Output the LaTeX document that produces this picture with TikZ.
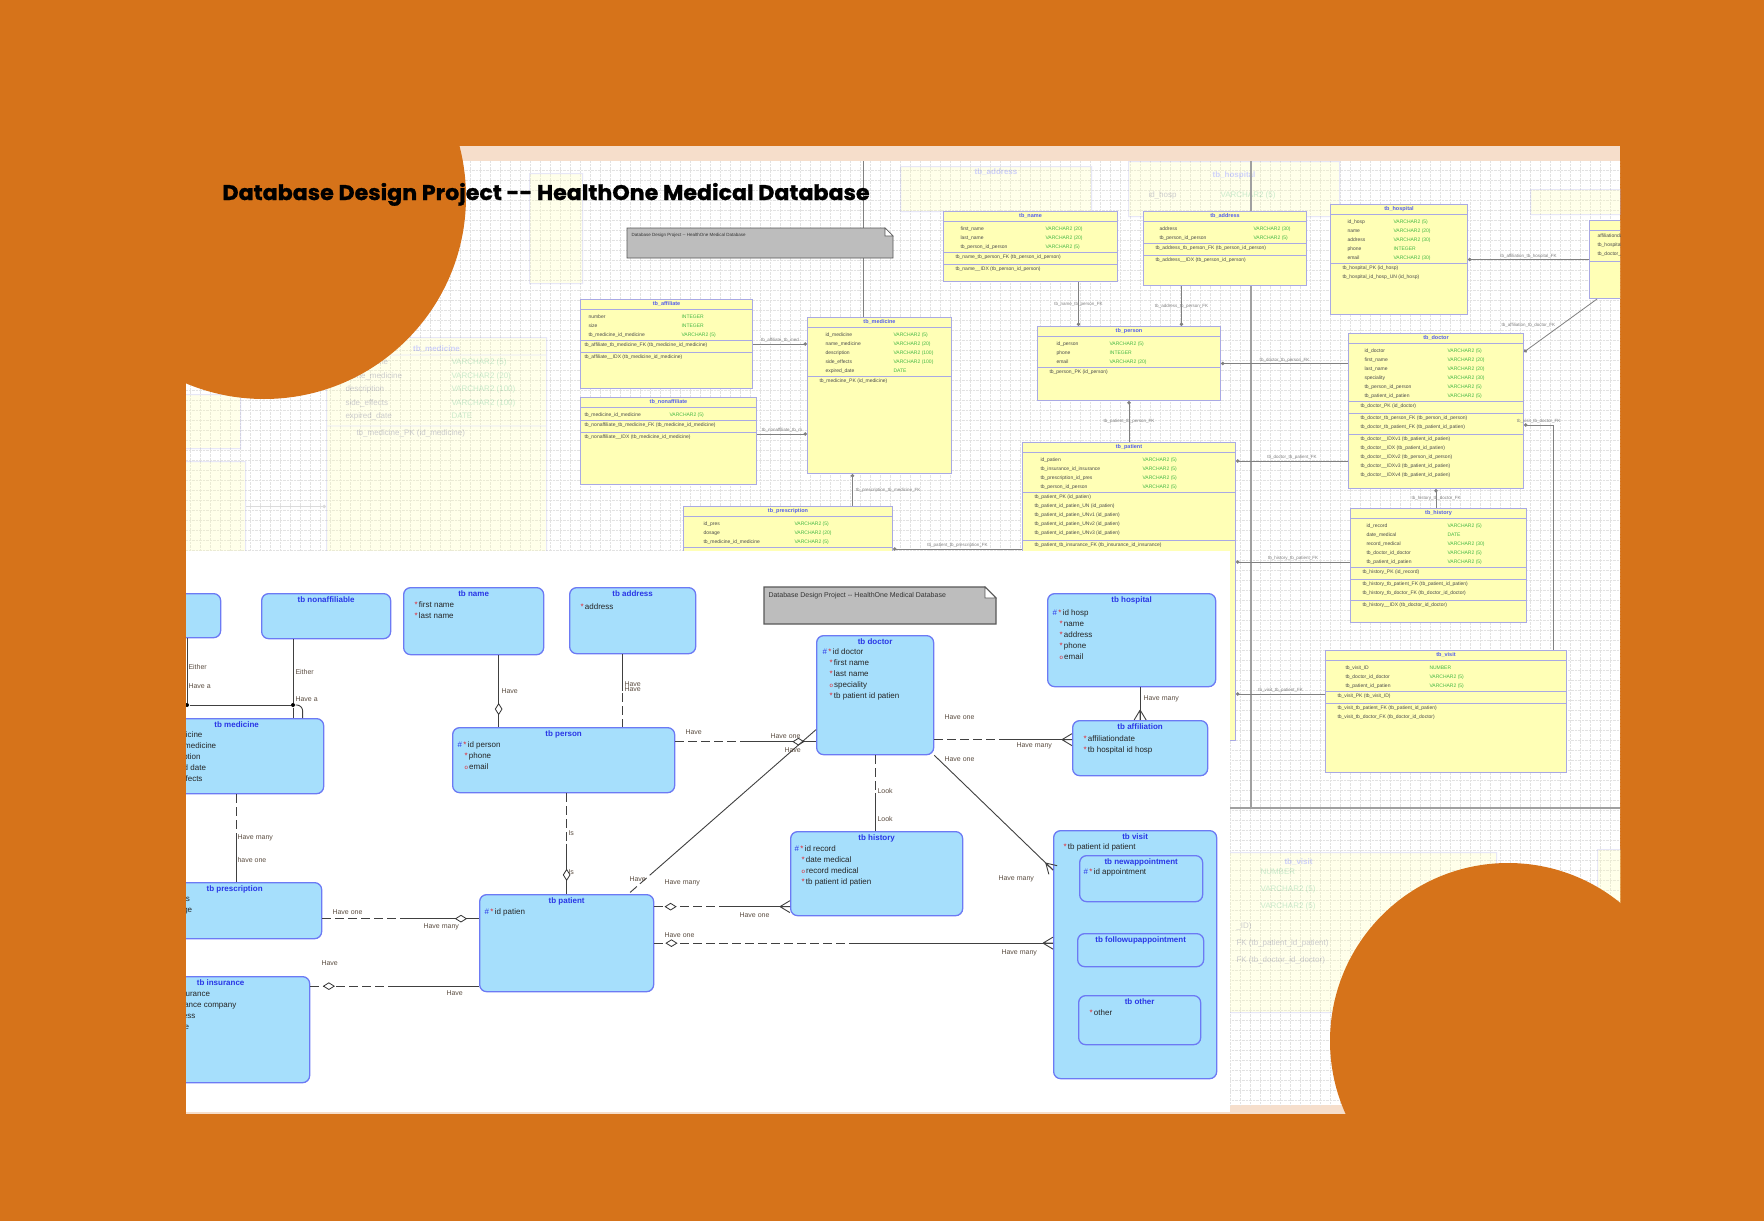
\documentclass[tikz,border=0pt]{standalone}
\usepackage{fontspec}
\usepackage{array}
\usepackage{graphicx}
\setmainfont{Liberation Sans}
\newfontfamily\titlefont{Poppins}[FakeBold=1.2]
\usetikzlibrary{arrows.meta, positioning, shapes.geometric, calc}
\definecolor{corange}{HTML}{D6731A}
\definecolor{cpeach}{HTML}{F6DECB}
\definecolor{cgrid}{HTML}{E2E2E2}
\definecolor{cent}{HTML}{A6DFFC}
\definecolor{centline}{HTML}{6C7AF4}
\definecolor{centtitle}{HTML}{2936E6}
\definecolor{cyel}{HTML}{FFFFB6}
\definecolor{cyelline}{HTML}{A9A9E4}
\definecolor{ctype}{HTML}{45B845}
\definecolor{cnote}{HTML}{BDBDBD}
\definecolor{clabel}{HTML}{5C4E42}
\definecolor{cstar}{HTML}{E5262E}
\definecolor{csplit}{HTML}{A0A0A0}
\newcommand{\pkey}{\textcolor{centtitle}{\#}\,}
\newcommand{\reqd}{\textcolor{cstar}{*}\,}
\newcommand{\optl}{\textcolor{cstar}{\fontsize{6}{6}\selectfont o}\,}
\newcommand{\fldind}{\hspace*{7pt}}
\tikzset{
  every picture/.style={font=\fontsize{8}{11}\selectfont, line width=1pt},
  ent/.style={draw=centline, fill=cent, rounded corners=7pt, line width=1.3pt, anchor=north west, inner sep=0pt},
  enttitle/.style={font=\fontsize{8}{9}\selectfont\bfseries, text=centtitle, anchor=north, inner sep=0pt, yshift=-3pt},
  fields/.style={anchor=north west, align=left, inner sep=0pt, font=\fontsize{8}{11}\selectfont, text=black!85},
  rel/.style={draw=black!75, line width=0.9pt},
  optrel/.style={rel, dash pattern=on 9pt off 4pt},
  dmd/.style={diamond, draw=black!80, fill=white, solid, line width=0.8pt, minimum width=11pt, minimum height=7pt, inner sep=0pt},
  lbl/.style={font=\fontsize{7}{8}\selectfont, text=clabel, anchor=west, inner sep=0pt},
  junction/.style={circle, fill=black, inner sep=0pt, minimum size=4pt},
  pics/crowfoot/.style={code={\draw[rel] (-10,0) -- (0,-6) (-10,0) -- (0,6) (-10,0) -- (0,0);}},
  notebox/.style={draw=black!65, fill=cnote, line width=1.2pt},
  notetext/.style={font=\fontsize{7}{8}\selectfont, text=black!80, anchor=west, inner sep=0pt},
  tbl/.style={draw=cyelline, fill=cyel, line width=1pt, anchor=north west, inner sep=0pt},
  tbltitle/.style={font=\fontsize{5.5}{6}\selectfont\bfseries, text=centtitle!80, anchor=north, inner sep=0pt, yshift=-2pt},
  tblrows/.style={anchor=north west, align=left, inner sep=0pt, font=\fontsize{5}{9}\selectfont, text=black!70},
  tbldiv/.style={draw=cyelline, line width=0.8pt},
  fklink/.style={draw=black!50, line width=0.8pt, -{Circle[length=3.5pt]}},
  fklbl/.style={font=\fontsize{4.5}{5}\selectfont, text=black!50, inner sep=1pt},
  gridline/.style={draw=cgrid, line width=0.4pt, densely dotted},
  splitline/.style={draw=csplit, line width=1.6pt},
}
\begin{document}
\begin{tikzpicture}[x=1pt, y=-1pt]
  \useasboundingbox (0,0) rectangle (1764,1221);
  % slide and screenshot of the relational model
  \fill[corange] (0,0) rectangle (1764,1221);
  \fill[cpeach] (186,146) rectangle (1620,1114);
  \fill[white] (186,161) rectangle (1620,1105);
  \begin{scope}
    \clip (186,161) rectangle (1620,1105);
    \draw[gridline, step=10pt] (186,1105) grid (1620,161);
    % faded copy behind
    \begin{scope}[opacity=0.28, transparency group]
      \node[tbl, minimum width=53pt, minimum height=110pt] (fname) at (529,173) {};
      \node[tbl, minimum width=191pt, minimum height=45pt] (faddr) at (900,166) {};
      \node[tbltitle, font=\fontsize{8}{9}\selectfont\bfseries] (faddrT) at (faddr.north) {tb\_address};
      \node[tbl, minimum width=211pt, minimum height=55pt] (fhosp) at (1128,161) {};
      \node[tbltitle, font=\fontsize{8}{9}\selectfont\bfseries, yshift=-8pt] (fhospT) at (fhosp.north) {tb\_hospital};
      \node[tblrows, font=\fontsize{8}{14}\selectfont] (fhospR) at ($(fhosp.north west)+(20,26)$) {\begin{tabular}{@{}p{60pt}>{\color{ctype}}l@{}}id\_hosp & VARCHAR2 (5)\end{tabular}};
      \node[tbl, minimum width=90pt, minimum height=25pt] (fright) at (1530,189) {};
      \node[tbl, minimum width=220pt, minimum height=214pt] (fmed) at (326,337) {};
      \node[tbltitle, font=\fontsize{8}{9}\selectfont\bfseries, yshift=-6pt] (fmedT) at (fmed.north) {tb\_medicine};
      \node[tblrows, font=\fontsize{8}{13.5}\selectfont] (fmedR) at ($(fmed.north west)+(19,18)$) {\begin{tabular}{@{}p{94pt}>{\color{ctype}}l@{}}id\_medicine & VARCHAR2 (5)\\ name\_medicine & VARCHAR2 (20)\\ description & VARCHAR2 (100)\\ side\_effects & VARCHAR2 (100)\\ expired\_date & DATE\end{tabular}};
      \node[tblrows, font=\fontsize{8}{13.5}\selectfont] (fmedK) at ($(fmed.north west)+(30,92)$) {tb\_medicine\_PK (id\_medicine)};
      \draw[tbldiv] ([yshift=-18pt]fmed.north west) -- ([yshift=-18pt]fmed.north east) ([yshift=-89pt]fmed.north west) -- ([yshift=-89pt]fmed.north east);
      \node[tbl, minimum width=90pt, minimum height=54pt] (fboxA) at (150,394) {};
      \node[tbl, minimum width=95pt, minimum height=90pt] (fboxB) at (150,461) {};
      \draw[fklink] (fboxB.east) -- (fboxB.east -| fmed.west);
      \node[tbl, minimum width=396pt, minimum height=160pt] (fvisit) at (1100,852) {};
      \node[tbltitle, font=\fontsize{8}{9}\selectfont\bfseries, yshift=-4pt] (fvisitT) at (fvisit.north) {tb\_visit};
      \node[tblrows, font=\fontsize{8}{17}\selectfont, text=ctype] (fvisitR) at (1260,868) {NUMBER\\ VARCHAR2 (5)\\ VARCHAR2 (5)};
      \node[tblrows, font=\fontsize{8}{17}\selectfont] (fvisitK) at (1236,922) {\_ID)\\ FK (tb\_patient\_id\_patient)\\ FK (tb\_doctor\_id\_doctor)};
      \node[tbl, minimum width=40pt, minimum height=107pt] (fright2) at (1597,849) {};
    \end{scope}
    \draw[splitline] (1251,161) -- (1251,808);
    \draw[splitline] (1230,808) -- (1620,808);
    % tables
    \node[tbl, minimum width=174pt, minimum height=70pt] (tname) at (943,211) {};
    \node[tbltitle] (tnameT) at (tname.north) {tb\_name};
    \node[tblrows] (tnameR) at ($(tname.north west)+(17,13)$) {\begin{tabular}{@{}p{73pt}>{\color{ctype}}l@{}}first\_name & VARCHAR2 (20)\\ last\_name & VARCHAR2 (20)\\ tb\_person\_id\_person & VARCHAR2 (5)\end{tabular}};
    \node[tblrows] (tnameK) at ($(tname.north west)+(12,43)$) {tb\_name\_tb\_person\_FK (tb\_person\_id\_person)\\[3pt] tb\_name\_\_IDX (tb\_person\_id\_person)};
    \draw[tbldiv] ([yshift=-10pt]tname.north west) -- ([yshift=-10pt]tname.north east) ([yshift=-41pt]tname.north west) -- ([yshift=-41pt]tname.north east) ([yshift=-53pt]tname.north west) -- ([yshift=-53pt]tname.north east);
    \node[tbl, minimum width=163pt, minimum height=74pt] (taddr) at (1143,211) {};
    \node[tbltitle] (taddrT) at (taddr.north) {tb\_address};
    \node[tblrows] (taddrR) at ($(taddr.north west)+(16,13)$) {\begin{tabular}{@{}p{82pt}>{\color{ctype}}l@{}}address & VARCHAR2 (30)\\ tb\_person\_id\_person & VARCHAR2 (5)\end{tabular}};
    \node[tblrows] (taddrK) at ($(taddr.north west)+(12,34)$) {tb\_address\_tb\_person\_FK (tb\_person\_id\_person)\\[3pt] tb\_address\_\_IDX (tb\_person\_id\_person)};
    \draw[tbldiv] ([yshift=-10pt]taddr.north west) -- ([yshift=-10pt]taddr.north east) ([yshift=-32pt]taddr.north west) -- ([yshift=-32pt]taddr.north east) ([yshift=-44pt]taddr.north west) -- ([yshift=-44pt]taddr.north east);
    \node[tbl, minimum width=137pt, minimum height=110pt] (thosp) at (1330,204) {};
    \node[tbltitle] (thospT) at (thosp.north) {tb\_hospital};
    \node[tblrows] (thospR) at ($(thosp.north west)+(17,13)$) {\begin{tabular}{@{}p{34pt}>{\color{ctype}}l@{}}id\_hosp & VARCHAR2 (5)\\ name & VARCHAR2 (20)\\ address & VARCHAR2 (30)\\ phone & INTEGER\\ email & VARCHAR2 (30)\end{tabular}};
    \node[tblrows] (thospK) at ($(thosp.north west)+(12,61)$) {tb\_hospital\_PK (id\_hosp)\\ tb\_hospital\_id\_hosp\_UN (id\_hosp)};
    \draw[tbldiv] ([yshift=-10pt]thosp.north west) -- ([yshift=-10pt]thosp.north east) ([yshift=-59pt]thosp.north west) -- ([yshift=-59pt]thosp.north east);
    \node[tbl, minimum width=90pt, minimum height=78pt] (taffil) at (1589,220) {};
    \node[tblrows] (taffilR) at ($(taffil.north west)+(8,13)$) {affiliationdate\\ tb\_hospital\_id\_hosp\\ tb\_doctor\_id\_doctor};
    \draw[tbldiv] ([yshift=-10pt]taffil.north west) -- ([yshift=-10pt]taffil.north east) ([yshift=-41pt]taffil.north west) -- ([yshift=-41pt]taffil.north east);
    \node[tbl, minimum width=183pt, minimum height=74pt] (tperson) at (1037,326) {};
    \node[tbltitle] (tpersonT) at (tperson.north) {tb\_person};
    \node[tblrows] (tpersonR) at ($(tperson.north west)+(19,13)$) {\begin{tabular}{@{}p{41pt}>{\color{ctype}}l@{}}id\_person & VARCHAR2 (5)\\ phone & INTEGER\\ email & VARCHAR2 (20)\end{tabular}};
    \node[tblrows] (tpersonK) at ($(tperson.north west)+(12,43)$) {tb\_person\_PK (id\_person)};
    \draw[tbldiv] ([yshift=-10pt]tperson.north west) -- ([yshift=-10pt]tperson.north east) ([yshift=-41pt]tperson.north west) -- ([yshift=-41pt]tperson.north east);
    \node[tbl, minimum width=175pt, minimum height=155pt] (tdoctor) at (1348,333) {};
    \node[tbltitle] (tdoctorT) at (tdoctor.north) {tb\_doctor};
    \node[tblrows] (tdoctorR) at ($(tdoctor.north west)+(16,13)$) {\begin{tabular}{@{}p{71pt}>{\color{ctype}}l@{}}id\_doctor & VARCHAR2 (5)\\ first\_name & VARCHAR2 (20)\\ last\_name & VARCHAR2 (20)\\ speciality & VARCHAR2 (30)\\ tb\_person\_id\_person & VARCHAR2 (5)\\ tb\_patient\_id\_patien & VARCHAR2 (5)\end{tabular}};
    \node[tblrows] (tdoctorK) at ($(tdoctor.north west)+(12,70)$) {tb\_doctor\_PK (id\_doctor)\\[3pt] tb\_doctor\_tb\_person\_FK (tb\_person\_id\_person)\\ tb\_doctor\_tb\_patient\_FK (tb\_patient\_id\_patien)\\[3pt] tb\_doctor\_\_IDXv1 (tb\_patient\_id\_patien)\\ tb\_doctor\_\_IDX (tb\_patient\_id\_patien)\\ tb\_doctor\_\_IDXv2 (tb\_person\_id\_person)\\ tb\_doctor\_\_IDXv3 (tb\_patient\_id\_patien)\\ tb\_doctor\_\_IDXv4 (tb\_patient\_id\_patien)};
    \draw[tbldiv] ([yshift=-10pt]tdoctor.north west) -- ([yshift=-10pt]tdoctor.north east) ([yshift=-68pt]tdoctor.north west) -- ([yshift=-68pt]tdoctor.north east) ([yshift=-80pt]tdoctor.north west) -- ([yshift=-80pt]tdoctor.north east) ([yshift=-101pt]tdoctor.north west) -- ([yshift=-101pt]tdoctor.north east);
    \node[tbl, minimum width=213pt, minimum height=298pt] (tpatient) at (1022,442) {};
    \node[tbltitle] (tpatientT) at (tpatient.north) {tb\_patient};
    \node[tblrows] (tpatientR) at ($(tpatient.north west)+(18,13)$) {\begin{tabular}{@{}p{90pt}>{\color{ctype}}l@{}}id\_patien & VARCHAR2 (5)\\ tb\_insurance\_id\_insurance & VARCHAR2 (5)\\ tb\_prescription\_id\_pres & VARCHAR2 (5)\\ tb\_person\_id\_person & VARCHAR2 (5)\end{tabular}};
    \node[tblrows] (tpatientK) at ($(tpatient.north west)+(12,52)$) {tb\_patient\_PK (id\_patien)\\ tb\_patient\_id\_patien\_UN (id\_patien)\\ tb\_patient\_id\_patien\_UNv1 (id\_patien)\\ tb\_patient\_id\_patien\_UNv2 (id\_patien)\\ tb\_patient\_id\_patien\_UNv3 (id\_patien)\\[3pt] tb\_patient\_tb\_insurance\_FK (tb\_insurance\_id\_insurance)};
    \draw[tbldiv] ([yshift=-10pt]tpatient.north west) -- ([yshift=-10pt]tpatient.north east) ([yshift=-50pt]tpatient.north west) -- ([yshift=-50pt]tpatient.north east) ([yshift=-98pt]tpatient.north west) -- ([yshift=-98pt]tpatient.north east);
    \node[tbl, minimum width=176pt, minimum height=114pt] (thistory) at (1350,508) {};
    \node[tbltitle] (thistoryT) at (thistory.north) {tb\_history};
    \node[tblrows] (thistoryR) at ($(thistory.north west)+(16,13)$) {\begin{tabular}{@{}p{69pt}>{\color{ctype}}l@{}}id\_record & VARCHAR2 (5)\\ date\_medical & DATE\\ record\_medical & VARCHAR2 (30)\\ tb\_doctor\_id\_doctor & VARCHAR2 (5)\\ tb\_patient\_id\_patien & VARCHAR2 (5)\end{tabular}};
    \node[tblrows] (thistoryK) at ($(thistory.north west)+(12,61)$) {tb\_history\_PK (id\_record)\\[3pt] tb\_history\_tb\_patient\_FK (tb\_patient\_id\_patien)\\ tb\_history\_tb\_doctor\_FK (tb\_doctor\_id\_doctor)\\[3pt] tb\_history\_\_IDX (tb\_doctor\_id\_doctor)};
    \draw[tbldiv] ([yshift=-10pt]thistory.north west) -- ([yshift=-10pt]thistory.north east) ([yshift=-59pt]thistory.north west) -- ([yshift=-59pt]thistory.north east) ([yshift=-71pt]thistory.north west) -- ([yshift=-71pt]thistory.north east) ([yshift=-92pt]thistory.north west) -- ([yshift=-92pt]thistory.north east);
    \node[tbl, minimum width=241pt, minimum height=122pt] (tvisit) at (1325,650) {};
    \node[tbltitle] (tvisitT) at (tvisit.north) {tb\_visit};
    \node[tblrows] (tvisitR) at ($(tvisit.north west)+(20,13)$) {\begin{tabular}{@{}p{72pt}>{\color{ctype}}l@{}}tb\_visit\_ID & NUMBER\\ tb\_doctor\_id\_doctor & VARCHAR2 (5)\\ tb\_patient\_id\_patien & VARCHAR2 (5)\end{tabular}};
    \node[tblrows] (tvisitK) at ($(tvisit.north west)+(12,43)$) {tb\_visit\_PK (tb\_visit\_ID)\\[3pt] tb\_visit\_tb\_patient\_FK (tb\_patient\_id\_patien)\\ tb\_visit\_tb\_doctor\_FK (tb\_doctor\_id\_doctor)};
    \draw[tbldiv] ([yshift=-10pt]tvisit.north west) -- ([yshift=-10pt]tvisit.north east) ([yshift=-41pt]tvisit.north west) -- ([yshift=-41pt]tvisit.north east) ([yshift=-53pt]tvisit.north west) -- ([yshift=-53pt]tvisit.north east);
    \node[tbl, minimum width=172pt, minimum height=89pt] (taffiliate) at (580,299) {};
    \node[tbltitle] (taffiliateT) at (taffiliate.north) {tb\_affiliate};
    \node[tblrows] (taffiliateR) at ($(taffiliate.north west)+(8,13)$) {\begin{tabular}{@{}p{81pt}>{\color{ctype}}l@{}}number & INTEGER\\ size & INTEGER\\ tb\_medicine\_id\_medicine & VARCHAR2 (5)\end{tabular}};
    \node[tblrows] (taffiliateK) at ($(taffiliate.north west)+(4,43)$) {tb\_affiliate\_tb\_medicine\_FK (tb\_medicine\_id\_medicine)\\[3pt] tb\_affiliate\_\_IDX (tb\_medicine\_id\_medicine)};
    \draw[tbldiv] ([yshift=-10pt]taffiliate.north west) -- ([yshift=-10pt]taffiliate.north east) ([yshift=-41pt]taffiliate.north west) -- ([yshift=-41pt]taffiliate.north east) ([yshift=-53pt]taffiliate.north west) -- ([yshift=-53pt]taffiliate.north east);
    \node[tbl, minimum width=176pt, minimum height=87pt] (tnonaff) at (580,397) {};
    \node[tbltitle] (tnonaffT) at (tnonaff.north) {tb\_nonaffiliate};
    \node[tblrows] (tnonaffR) at ($(tnonaff.north west)+(4,13)$) {\begin{tabular}{@{}p{73pt}>{\color{ctype}}l@{}}tb\_medicine\_id\_medicine & VARCHAR2 (5)\end{tabular}};
    \node[tblrows] (tnonaffK) at ($(tnonaff.north west)+(4,25)$) {tb\_nonaffiliate\_tb\_medicine\_FK (tb\_medicine\_id\_medicine)\\[3pt] tb\_nonaffiliate\_\_IDX (tb\_medicine\_id\_medicine)};
    \draw[tbldiv] ([yshift=-10pt]tnonaff.north west) -- ([yshift=-10pt]tnonaff.north east) ([yshift=-23pt]tnonaff.north west) -- ([yshift=-23pt]tnonaff.north east) ([yshift=-35pt]tnonaff.north west) -- ([yshift=-35pt]tnonaff.north east);
    \coordinate (bgtop) at (863,161);
    \node[tbl, minimum width=144pt, minimum height=156pt] (tmed) at (807,317) {};
    \draw[fklink, -] (bgtop) -- (bgtop |- tmed.north);
    \node[tbltitle] (tmedT) at (tmed.north) {tb\_medicine};
    \node[tblrows] (tmedR) at ($(tmed.north west)+(18,13)$) {\begin{tabular}{@{}p{56pt}>{\color{ctype}}l@{}}id\_medicine & VARCHAR2 (5)\\ name\_medicine & VARCHAR2 (20)\\ description & VARCHAR2 (100)\\ side\_effects & VARCHAR2 (100)\\ expired\_date & DATE\end{tabular}};
    \node[tblrows] (tmedK) at ($(tmed.north west)+(12,61)$) {tb\_medicine\_PK (id\_medicine)};
    \draw[tbldiv] ([yshift=-10pt]tmed.north west) -- ([yshift=-10pt]tmed.north east) ([yshift=-59pt]tmed.north west) -- ([yshift=-59pt]tmed.north east);
    \node[tbl, minimum width=209pt, minimum height=60pt] (tpres) at (683,506) {};
    \node[tbltitle] (tpresT) at (tpres.north) {tb\_prescription};
    \node[tblrows] (tpresR) at ($(tpres.north west)+(20,13)$) {\begin{tabular}{@{}p{79pt}>{\color{ctype}}l@{}}id\_pres & VARCHAR2 (5)\\ dosage & VARCHAR2 (20)\\ tb\_medicine\_id\_medicine & VARCHAR2 (5)\end{tabular}};
    \draw[tbldiv] ([yshift=-10pt]tpres.north west) -- ([yshift=-10pt]tpres.north east) ([yshift=-41pt]tpres.north west) -- ([yshift=-41pt]tpres.north east);
    % foreign keys
    \draw[fklink] ([xshift=48pt]tname.south) -- ([xshift=48pt]tname.south |- tperson.north) node[fklbl, midway] (fkNP) {tb\_name\_tb\_person\_FK};
    \draw[fklink] ([xshift=-43.5pt]taddr.south) -- ([xshift=-43.5pt]taddr.south |- tperson.north) node[fklbl, midway] (fkAP) {tb\_address\_tb\_person\_FK};
    \draw[fklink] (tdoctor.west |- tperson.east) -- (tperson.east) node[fklbl, midway, above] (fkDP) {tb\_doctor\_tb\_person\_FK};
    \draw[fklink] (tpatient.north -| tperson.south) -- (tperson.south) node[fklbl, midway] (fkPP) {tb\_patient\_tb\_person\_FK};
    \draw[fklink] (taffil.west |- thosp.east) -- (thosp.east) node[fklbl, midway, above] (fkAH) {tb\_affiliation\_tb\_hospital\_FK};
    \draw[fklink] ([xshift=8pt]taffil.south west) -- ([yshift=-19pt]tdoctor.north east) node[fklbl, midway, left=4pt] (fkAD) {tb\_affiliation\_tb\_doctor\_FK};
    \draw[fklink] ([yshift=-128pt]tdoctor.north west) -- ([yshift=-128pt]tdoctor.north west -| tpatient.east) node[fklbl, midway, above] (fkDPa) {tb\_doctor\_tb\_patient\_FK};
    \draw[fklink] (thistory.north -| tdoctor.south) -- (tdoctor.south) node[fklbl, midway] (fkHD) {tb\_history\_tb\_doctor\_FK};
    \draw[fklink] ([yshift=-54pt]thistory.north west) -- ([yshift=-54pt]thistory.north west -| tpatient.east) node[fklbl, midway, above] (fkHP) {tb\_history\_tb\_patient\_FK};
    \draw[fklink] ([yshift=-44pt]tvisit.north west) -- ([yshift=-44pt]tvisit.north west -| tpatient.east) node[fklbl, midway, above] (fkVP) {tb\_visit\_tb\_patient\_FK};
    \draw[fklink] ([xshift=-14pt]tvisit.north east) |- ([yshift=-92pt]tdoctor.north east) node[fklbl, pos=0.75, above] (fkVD) {tb\_visit\_tb\_doctor\_FK};
    \draw[fklink] (taffiliate.east) -- (taffiliate.east -| tmed.west) node[fklbl, midway, above] (fkAM) {tb\_affiliate\_tb\_med};
    \draw[fklink] ([yshift=7pt]tnonaff.east) -- ([yshift=7pt]tnonaff.east -| tmed.west) node[fklbl, midway, above] (fkNM) {tb\_nonaffiliate\_tb\_m};
    \draw[fklink] ([xshift=-27pt]tmed.south |- tpres.north) -- ([xshift=-27pt]tmed.south) node[fklbl, midway, right=2pt] (fkPM) {tb\_prescription\_tb\_medicine\_FK};
    \draw[fklink] ([yshift=-43pt]tpres.north east -| tpatient.west) -- ([yshift=-43pt]tpres.north east) node[fklbl, midway, above] (fkPrP) {tb\_patient\_tb\_prescription\_FK};
    % note of the relational model
    \node[anchor=north west, minimum width=265pt, minimum height=29pt, inner sep=0pt] (bgnote) at (627,228) {};
    \draw[notebox, line width=0.8pt] (bgnote.north west) -- ([xshift=-8pt]bgnote.north east) -- ([yshift=-8pt]bgnote.north east) -- (bgnote.south east) -- (bgnote.south west) -- cycle;
    \draw[notebox, fill=white, line width=0.6pt] ([xshift=-8pt]bgnote.north east) -- ([yshift=-8pt]bgnote.north east) -- ([xshift=-8pt, yshift=-8pt]bgnote.north east) -- cycle;
    \node[notetext, font=\fontsize{4.5}{5}\selectfont] (bgnoteT) at ($(bgnote.north west)+(4,7)$) {Database Design Project -{}- HealthOne Medical Database};
  \end{scope}

  % logical model on top
  \fill[white] (186,551) rectangle (1230,1112);
  \begin{scope}
    \clip (186,551) rectangle (1230,1112);
    \node[ent, minimum width=129pt, minimum height=44pt] (affiliable) at (91,593) {};
    \node[ent, minimum width=129pt, minimum height=45pt] (nonaff) at (261,593) {};
    \node[enttitle] (nonaffT) at (nonaff.north) {tb nonaffiliable};
    \node[ent, minimum width=140pt, minimum height=67pt] (name) at (403,587) {};
    \node[enttitle] (nameT) at (name.north) {tb name};
    \node[fields] (nameF) at ($(name.north west)+(11,14)$) {\reqd first name\\ \reqd last name};
    \node[ent, minimum width=126pt, minimum height=66pt] (address) at (569,587) {};
    \node[enttitle] (addressT) at (address.north) {tb address};
    \node[fields] (addressF) at ($(address.north west)+(11,16)$) {\reqd address};
    \node[anchor=north west, minimum width=231pt, minimum height=36pt, inner sep=0pt] (note) at (764,587) {};
    \draw[notebox] (note.north west) -- ([xshift=-11pt]note.north east) -- ([yshift=-11pt]note.north east) -- (note.south east) -- (note.south west) -- cycle;
    \draw[notebox, fill=white, line width=0.8pt] ([xshift=-11pt]note.north east) -- ([yshift=-11pt]note.north east) -- ([xshift=-11pt, yshift=-11pt]note.north east) -- cycle;
    \node[notetext] (noteT) at ($(note.north west)+(4,9)$) {Database Design Project -{}- HealthOne Medical Database};
    \node[ent, minimum width=117pt, minimum height=119pt] (doctor) at (816,635) {};
    \node[enttitle] (doctorT) at (doctor.north) {tb doctor};
    \node[fields] (doctorF) at ($(doctor.north west)+(6,13)$) {\pkey\reqd id doctor\\ \fldind\reqd first name\\ \fldind\reqd last name\\ \fldind\optl speciality\\ \fldind\reqd tb patient id patien};
    \node[ent, minimum width=168pt, minimum height=93pt] (hospital) at (1047,593) {};
    \node[enttitle] (hospitalT) at (hospital.north) {tb hospital};
    \node[fields] (hospitalF) at ($(hospital.north west)+(5,16)$) {\pkey\reqd id hosp\\ \fldind\reqd name\\ \fldind\reqd address\\ \fldind\reqd phone\\ \fldind\optl email};
    \node[ent, minimum width=135pt, minimum height=55pt] (affil) at (1072,720) {};
    \node[enttitle] (affilT) at (affil.north) {tb affiliation};
    \node[fields] (affilF) at ($(affil.north west)+(11,15)$) {\reqd affiliationdate\\ \reqd tb hospital id hosp};
    \node[ent, minimum width=174pt, minimum height=75pt] (medicine) at (149,718) {};
    \node[enttitle] (medicineT) at (medicine.north) {tb medicine};
    \node[fields] (medicineF) at ($(medicine.north west)+(8,13)$) {\reqd id medicine\\ \reqd name medicine\\ \reqd description\\ \reqd expired date\\ \optl side effects};
    \node[ent, minimum width=222pt, minimum height=65pt] (person) at (452,727) {};
    \node[enttitle] (personT) at (person.north) {tb person};
    \node[fields] (personF) at ($(person.north west)+(5,14)$) {\pkey\reqd id person\\ \fldind\reqd phone\\ \fldind\optl email};
    \node[ent, minimum width=172pt, minimum height=84pt] (history) at (790,831) {};
    \node[enttitle] (historyT) at (history.north) {tb history};
    \node[fields] (historyF) at ($(history.north west)+(4,14)$) {\pkey\reqd id record\\ \fldind\reqd date medical\\ \fldind\optl record medical\\ \fldind\reqd tb patient id patien};
    \node[ent, minimum width=174pt, minimum height=56pt] (presc) at (147,882) {};
    \node[enttitle] (prescT) at (presc.north) {tb prescription};
    \node[fields] (prescF) at ($(presc.north west)+(14,13)$) {\reqd id pres\\ \reqd dosage};
    \node[ent, minimum width=174pt, minimum height=97pt] (patient) at (479,894) {};
    \node[enttitle] (patientT) at (patient.north) {tb patient};
    \node[fields] (patientF) at ($(patient.north west)+(5,14)$) {\pkey\reqd id patien};
    \node[ent, minimum width=178pt, minimum height=106pt] (insur) at (131,976) {};
    \node[enttitle] (insurT) at (insur.north) {tb insurance};
    \node[fields] (insurF) at ($(insur.north west)+(31,14)$) {\reqd id insurance\\ \reqd insurance company\\ \reqd address\\ \reqd phone\\ \optl email};
    \node[ent, minimum width=163pt, minimum height=248pt] (visit) at (1053,830) {};
    \node[enttitle] (visitT) at (visit.north) {tb visit};
    \node[fields] (visitF) at ($(visit.north west)+(10,13)$) {\reqd tb patient id patient};
    \node[ent, minimum width=123pt, minimum height=46pt] (newappt) at (1079,855) {};
    \node[enttitle] (newapptT) at (newappt.north) {tb newappointment};
    \node[fields] (newapptF) at ($(newappt.north west)+(4,13)$) {\pkey\reqd id appointment};
    \node[ent, minimum width=126pt, minimum height=33pt] (followup) at (1077,933) {};
    \node[enttitle] (followupT) at (followup.north) {tb followupappointment};
    \node[ent, minimum width=122pt, minimum height=49pt] (other) at (1078,995) {};
    \node[enttitle] (otherT) at (other.north) {tb other};
    \node[fields] (otherF) at ($(other.north west)+(11,14)$) {\reqd other};

    % relationships
    \node[junction] (jnA) at (187,705) {};
    \node[junction] (jnB) at (293,705) {};
    \draw[rel] (affiliable.south -| jnA) -- (jnA) -- (jnB) (jnA) -- ++(-40,0);
    \draw[rel] (nonaff.south -| jnB) -- (jnB) -- (jnB |- medicine.north);
    \draw[rel, rounded corners=6pt] (jnB.east) -| ([xshift=66pt]medicine.north);
    \coordinate (mp1) at (medicine.south);
    \coordinate (mp2) at (medicine.south |- presc.north);
    \draw[optrel] (mp1) -- (mp2);
    \draw[rel] ($(mp1)!0.5!(mp2)$) -- (mp2);
    \coordinate (np1) at ([xshift=25pt]name.south);
    \coordinate (np2) at (np1 |- person.north);
    \draw[rel] (np1) -- (np2) node[dmd, pos=0.75, sloped] (dmNP) {};
    \coordinate (ap1) at ([xshift=-10pt]address.south);
    \coordinate (ap2) at (ap1 |- person.north);
    \draw[optrel] (ap1) -- (ap2);
    \draw[rel] (ap1) -- ($(ap1)!0.5!(ap2)$);
    \coordinate (pd1) at ([yshift=18.5pt]person.east);
    \coordinate (pd2) at (pd1 -| doctor.west);
    \draw[optrel] (pd1) -- (pd2);
    \draw[rel] ($(pd1)!0.5!(pd2)$) -- (pd2) node[dmd, pos=0.75, sloped] (dmPD) {};
    \coordinate (pp1) at (patient.north |- person.south);
    \coordinate (pp2) at (patient.north);
    \draw[optrel] (pp1) -- (pp2);
    \draw[rel] ($(pp1)!0.5!(pp2)$) -- (pp2) node[dmd, pos=0.62, sloped] (dmPP) {};
    \coordinate (dp1) at ([yshift=-34.5pt]doctor.west);
    \coordinate (dp2) at ([xshift=-26pt]patient.north east);
    \draw[rel] (dp1) -- ($(dp1)!0.85!(dp2)$);
    \draw[optrel] ($(dp1)!0.85!(dp2)$) -- (dp2);
    \coordinate (da2) at ([yshift=8.5pt]affil.west);
    \coordinate (da1) at (da2 -| doctor.east);
    \draw[optrel] (da1) -- (da2);
    \draw[rel] ($(da1)!0.5!(da2)$) -- (da2);
    \pic at (da2) {crowfoot};
    \coordinate (ha1) at (affil.north |- hospital.south);
    \draw[rel] (ha1) -- (affil.north);
    \pic[rotate=-90] at (affil.north) {crowfoot};
    \coordinate (dh2) at (doctor.south |- history.north);
    \draw[optrel] (doctor.south) -- (dh2);
    \draw[rel] ($(doctor.south)!0.5!(dh2)$) -- (dh2);
    \coordinate (dv2) at ([yshift=-40pt]visit.north west);
    \draw[rel] (doctor.south east) -- (dv2);
    \pic[rotate=-44] at (dv2) {crowfoot};
    \coordinate (ph1) at ([yshift=36.5pt]patient.east);
    \coordinate (ph2) at (ph1 -| history.west);
    \draw[optrel] (ph1) -- (ph2) node[dmd, pos=0.12, sloped] (dmPH) {};
    \draw[rel] ($(ph1)!0.5!(ph2)$) -- (ph2);
    \pic at (ph2) {crowfoot};
    \coordinate (pv1) at (patient.east);
    \coordinate (pv2) at (patient.east -| visit.west);
    \draw[optrel] (pv1) -- (pv2) node[dmd, pos=0.043, sloped] (dmPV) {};
    \draw[rel] ($(pv1)!0.5!(pv2)$) -- (pv2);
    \pic at (pv2) {crowfoot};
    \coordinate (rp1) at ([yshift=-8pt]presc.east);
    \coordinate (rp2) at (rp1 -| patient.west);
    \draw[optrel] (rp1) -- (rp2);
    \draw[rel] ($(rp1)!0.5!(rp2)$) -- (rp2) node[dmd, pos=0.77, sloped] (dmRP) {};
    \coordinate (ip1) at ([yshift=43.5pt]insur.east);
    \coordinate (ip2) at (ip1 -| patient.west);
    \draw[optrel] (ip1) -- (ip2) node[dmd, pos=0.11, sloped] (dmIP) {};
    \draw[rel] ($(ip1)!0.5!(ip2)$) -- (ip2);

    % relationship names
    \node[lbl] (lE1) at (188,667) {Either};
    \node[lbl] (lH1) at (188,686) {Have a};
    \node[lbl] (lE2) at (295,672) {Either};
    \node[lbl] (lH2) at (295,699) {Have a};
    \node[lbl] (lMP1) at (237,838) {Have many};
    \node[lbl] (lMP2) at (237,860) {have one};
    \node[lbl] (lNP) at (501,691) {Have};
    \node[lbl] (lAP1) at (624,684) {Have};
    \node[lbl] (lAP2) at (624,689) {Have};
    \node[lbl] (lPD1) at (685,732) {Have};
    \node[lbl] (lPD2) at (770,736) {Have one};
    \node[lbl] (lDP1) at (784,750) {Have};
    \node[lbl] (lPP1) at (568,833) {Is};
    \node[lbl] (lPP2) at (568,872) {Is};
    \node[lbl] (lDP2) at (629,879) {Have};
    \node[lbl] (lPH1) at (664,883) {Have many};
    \node[lbl] (lPH2) at (739,915) {Have one};
    \node[lbl] (lPV1) at (664,935) {Have one};
    \node[lbl] (lPV2) at (1001,953) {Have many};
    \node[lbl] (lDA1) at (944,717) {Have one};
    \node[lbl] (lDA2) at (1016,746) {Have many};
    \node[lbl] (lHA) at (1143,699) {Have many};
    \node[lbl] (lDH1) at (877,791) {Look};
    \node[lbl] (lDH2) at (877,819) {Look};
    \node[lbl] (lDV1) at (944,759) {Have one};
    \node[lbl] (lDV2) at (998,879) {Have many};
    \node[lbl] (lRP1) at (332,912) {Have one};
    \node[lbl] (lRP2) at (423,927) {Have many};
    \node[lbl] (lIP1) at (321,963) {Have};
    \node[lbl] (lIP2) at (446,993) {Have};
  \end{scope}

  % orange discs and the slide title
  \fill[corange] (264,197) circle (202pt);
  \fill[corange] (1508,1041) circle (178pt);
  \node[anchor=base west, inner sep=0pt] (title) at (222,200) {\resizebox{647pt}{17pt}{\titlefont\bfseries Database Design Project {-}{-} HealthOne Medical Database}};
\end{tikzpicture}
\end{document}
